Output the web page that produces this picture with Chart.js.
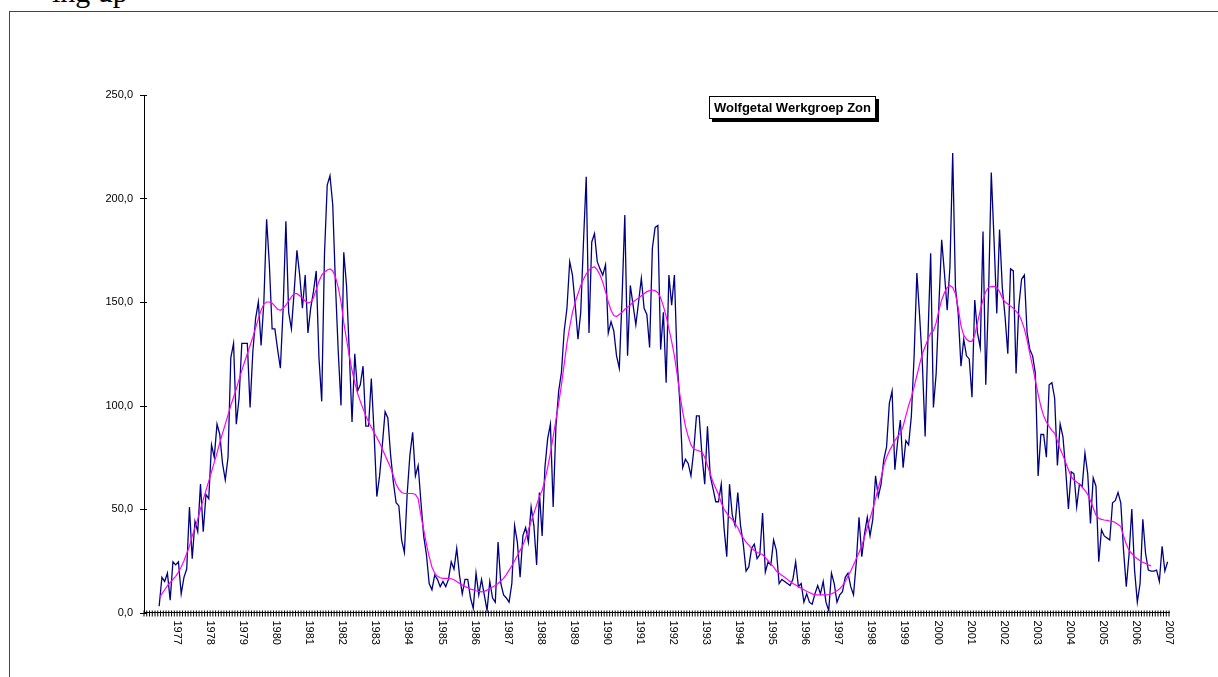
<!DOCTYPE html>
<html>
<head>
<meta charset="utf-8">
<script src="https://cdn.jsdelivr.net/npm/chart.js@4.4.1/dist/chart.umd.min.js"></script>
<style>
  html, body { margin: 0; padding: 0; background: #fff; overflow: hidden; }
  #wrap { position: relative; width: 1218px; height: 677px; overflow: hidden; }
  #frame { position: absolute; left: 9px; top: 11px; width: 1400px; height: 900px;
           border-left: 1px solid #444; border-top: 1px solid #444; }
  #doctext { position: absolute; left: 52px; top: -23px; font: 30px "Liberation Serif", "Times New Roman", serif;
             line-height: 30px; color: #000; white-space: nowrap; }
  #c { position: absolute; left: 0; top: 0; }
  #title { position: absolute; left: 709px; top: 96px; background: #fff; border: 1px solid #000;
           box-shadow: 3px 3px 0 #000; padding: 3px 4px; font: bold 13px "Liberation Sans", Arial, sans-serif;
           color: #000; white-space: nowrap; line-height: 15px; }
</style>
</head>
<body>
<div id="wrap">
  <div id="doctext">ing up</div>
  <div id="frame"></div>
  <canvas id="c" width="1218" height="677"></canvas>
  <div id="title">Wolfgetal Werkgroep Zon</div>
</div>
<script>
// Categories: one per month, Jan 1976 .. Dec 2006
const firstYear = 1976;
const categories = [];
for (let yr = firstYear; yr <= 2006; yr++) {
  for (let m = 1; m <= 12; m++) categories.push(yr + '-' + String(m).padStart(2, '0'));
}

// Year labels shown under the axis (at each year boundary)
const yearLabels = ['1977','1978','1979','1980','1981','1982','1983','1984','1985','1986',
  '1987','1988','1989','1990','1991','1992','1993','1994','1995','1996',
  '1997','1998','1999','2000','2001','2002','2003','2004','2005','2006','2007'];

// Y axis tick values
const yTicks = [0, 50, 100, 150, 200, 250];

// Monthly sunspot number (Wolfgetal), starting Jan 1976 (first data Jun 1976)
const monthly = [
  null, null, null, null, null,
  3, 17, 15, 19, 6, 24.5, 23, 24.5, 9, 17, 21, 51,
  26, 44, 39, 62, 39, 57, 55, 81, 75, 91, 86, 72,
  64, 75, 123, 130, 91, 103.5, 130, 130, 130, 99, 126, 142,
  150, 129, 150, 190, 168, 137, 137, 127, 118, 147, 189, 145,
  137, 155, 175, 163, 147, 163, 135, 147, 155, 165, 123, 102,
  173, 206.5, 211, 197, 158, 126, 100, 174, 158, 126, 92, 125,
  107, 110, 119, 90, 90, 113, 87, 56, 66, 81, 97, 94,
  76, 63, 53, 51.5, 35, 29, 57, 76, 87, 66, 71, 53.5,
  37, 28, 14, 11, 18, 16, 12.5, 15, 12.5, 16, 24.5, 21,
  31, 18, 9, 16, 16, 7, 2, 19, 8.5, 16, 8.5, 1,
  15, 7, 5, 34, 14, 8.5, 7, 5, 14, 42, 34, 17,
  37, 41, 34, 51, 42, 23, 58, 37, 70, 84, 91, 51,
  90, 107, 116, 136, 147, 169.5, 163, 148.5, 132, 145, 179, 210.5,
  135, 179, 183, 169.5, 166, 163, 168, 135, 140.5, 136, 124, 118,
  152, 192, 124, 158, 148.5, 139, 150, 161.5, 147, 144, 128, 176,
  186, 187, 127, 145, 111, 163, 148.5, 163, 121, 101, 70, 74,
  72, 66, 78, 95, 95, 76, 62, 90, 66, 60, 53.5, 53.5,
  62, 41, 27, 62, 47, 42, 58, 42, 33, 20, 22, 31,
  33, 26, 28, 48, 19.5, 24.5, 23, 35, 30, 14, 16, 15,
  14, 13, 16, 24.5, 12.5, 14, 5, 9, 5, 4, 9, 13,
  9, 15, 5, 1, 19, 14, 5, 8.5, 10, 17, 19, 12.5,
  8.5, 24, 46, 27, 38, 46, 37, 45, 66, 56, 62, 74,
  80, 101, 107, 69, 82.5, 93, 70, 83, 81, 95, 124, 164,
  143, 120, 85, 132, 173.5, 99, 115.5, 149, 180, 164, 146, 167,
  222, 157, 144.5, 119, 132, 124, 122.5, 104, 151, 135, 128, 184,
  110, 153, 212.5, 180, 144.5, 185, 157, 143, 125, 166, 165, 115.5,
  148, 161, 163, 135, 127, 124, 115.5, 66, 86, 86, 75, 110,
  111, 103.5, 71, 91, 85, 69, 50, 68, 67, 51, 62, 61,
  77, 67, 43, 65, 61, 24.5, 40, 37, 36, 35, 53, 54,
  58, 53, 30, 12.5, 28, 50, 20.5, 5, 14, 45, 28.5, 20.5,
  20, 20, 20.5, 15, 32, 20, 24.5
];

// Smoothed sunspot number, starting Jan 1976 (first value Jun 1976)
const smoothed = [
  null, null, null, null, null,
  7, 9, 11, 13, 14.5, 16, 17.5, 19.5, 22, 25, 28.5, 32,
  37, 41, 45, 50, 54.5, 59, 63.5, 68, 72.5, 77, 82, 86.5,
  91, 95.5, 100, 104, 108, 112.5, 117, 121, 125, 129, 133, 137.5,
  142, 146, 149, 150, 150, 149.5, 148, 146.5, 146, 147, 148.5, 150.5,
  152.5, 154, 154, 153, 152, 150.5, 149.5, 150, 152, 156, 160, 163,
  164.5, 165.5, 166, 165, 162, 157, 150, 140, 132, 124, 117, 111,
  106, 102, 98.5, 95, 92, 89.5, 87, 84.5, 82, 79, 76, 73,
  70, 66, 62, 59.5, 58, 57.5, 57.5, 57.5, 57.5, 57, 55, 47,
  40, 33, 27, 22, 19, 17.5, 16.8, 16.5, 16.5, 16.5, 16.3, 15.8,
  15, 14, 13.3, 12.5, 12, 11.3, 10.9, 10.5, 10.2, 10, 10.2, 10.8,
  11.7, 12.3, 13, 14, 15.2, 16.5, 18.3, 20.5, 22.5, 25, 27.5, 30,
  32.5, 36, 40, 44, 48, 52, 56, 59, 64, 70, 77, 85,
  93, 101, 110, 120, 130, 138, 145, 150, 154, 158, 161, 163.5,
  165.5, 166.5, 167, 165.5, 163, 159.5, 155, 150, 146, 143.5, 143, 144,
  145, 146.5, 147.5, 148.5, 150, 151, 152, 153, 154, 155, 155.5, 155.8,
  155.5, 154.5, 152, 148, 143, 137, 131, 124, 115, 105, 97, 90,
  85, 81, 79, 78.5, 78, 77.5, 75, 71, 67, 63, 60, 57,
  53, 50, 48, 46, 45, 43, 41, 38, 36, 34, 32.5, 31,
  30, 29, 28.5, 28, 26.5, 25, 23.5, 22, 20, 19, 18, 17,
  16, 15, 14, 13.3, 12.5, 11.7, 11, 10.3, 9.7, 9, 8.5, 8.5,
  8.5, 8.5, 8.5, 8.7, 9, 9.7, 10.5, 11.5, 13, 15, 17.5, 20,
  23, 26, 29, 32, 36.5, 41, 45.5, 50, 55, 60, 65, 71,
  75, 78, 80.5, 83, 85, 86.5, 90, 95, 100, 104, 109, 114.5,
  120, 125, 128.5, 132, 135, 136, 140, 146, 151, 154.5, 157, 158,
  157, 154, 147, 138.5, 134, 132, 131, 131, 134, 140, 146, 151,
  155, 157, 157.4, 157.5, 157, 155, 152, 150, 149, 148, 147, 145.5,
  144, 141, 137, 131.6, 125, 119, 112, 105.5, 99.5, 95, 92, 89.8,
  88, 86.6, 83, 79, 76, 72.5, 69, 65.6, 64, 63, 62, 60.5,
  59, 57, 54, 50.5, 47, 45.5, 45, 44.7, 44.5, 44.2, 44, 43.5,
  42.5, 41.5, 37, 33, 30, 28.5, 27, 26, 25, 24.3, 23.7, 23,
  22.5
];

const FONT = '"Liberation Sans", Arial, sans-serif';

const axisDeco = {
  id: 'axisDeco',
  afterDraw(chart) {
    const { ctx, scales: { x, y } } = chart;
    const y0 = y.getPixelForValue(0);
    const w = x.getPixelForValue(1) - x.getPixelForValue(0);
    ctx.save();
    ctx.strokeStyle = '#000';
    ctx.lineWidth = 1;
    ctx.beginPath();
    for (let b = 0; b <= categories.length; b++) {
      const px = x.getPixelForValue(b) - w / 2;
      ctx.moveTo(px, y0 - 2);
      ctx.lineTo(px, y0 + 4);
    }
    for (const v of yTicks) {
      const py = Math.round(y.getPixelForValue(v)) + 0.5;
      ctx.moveTo(x.left - 4, py);
      ctx.lineTo(x.left + 3, py);
    }
    ctx.stroke();
    ctx.fillStyle = '#000';
    ctx.font = '11px ' + FONT;
    ctx.textAlign = 'left';
    ctx.textBaseline = 'middle';
    yearLabels.forEach((lab, k) => {
      const px = x.getPixelForValue(12 * (k + 1)) - w / 2;
      ctx.save();
      ctx.translate(px, y0 + 8);
      ctx.rotate(Math.PI / 2);
      ctx.fillText(lab, 0, 0);
      ctx.restore();
    });
    ctx.restore();
  }
};

new Chart(document.getElementById('c'), {
  type: 'line',
  data: {
    labels: categories,
    datasets: [
      {
        label: 'Gladgestreken',
        data: smoothed,
        borderColor: '#ff00ff',
        borderWidth: 1.2,
        pointRadius: 0,
        tension: 0,
        fill: false
      },
      {
        label: 'Wolfgetal',
        data: monthly,
        borderColor: '#000080',
        borderWidth: 1.3,
        pointRadius: 0,
        tension: 0,
        fill: false
      }
    ]
  },
  options: {
    responsive: false,
    animation: false,
    devicePixelRatio: 1,
    layout: { padding: { top: 95, left: 0, right: 49, bottom: 54.5 } },
    plugins: { legend: { display: false }, tooltip: { enabled: false }, title: { display: false } },
    scales: {
      x: {
        type: 'category',
        offset: true,
        grid: { display: false, drawTicks: false },
        border: { display: true, color: '#000', width: 1 },
        ticks: { display: false },
        afterFit(scale) { scale.height = 10; }
      },
      y: {
        min: 0,
        max: 250,
        afterBuildTicks(scale) { scale.ticks = yTicks.map(v => ({ value: v })); },
        grid: { display: false, drawTicks: false },
        border: { display: true, color: '#000', width: 1 },
        ticks: {
          padding: 11,
          color: '#000',
          font: { family: FONT, size: 11 },
          callback: v => Number(v).toFixed(1).replace('.', ',')
        },
        afterFit(scale) { scale.width = 144; }
      }
    }
  },
  plugins: [axisDeco]
});
</script>
</body>
</html>
